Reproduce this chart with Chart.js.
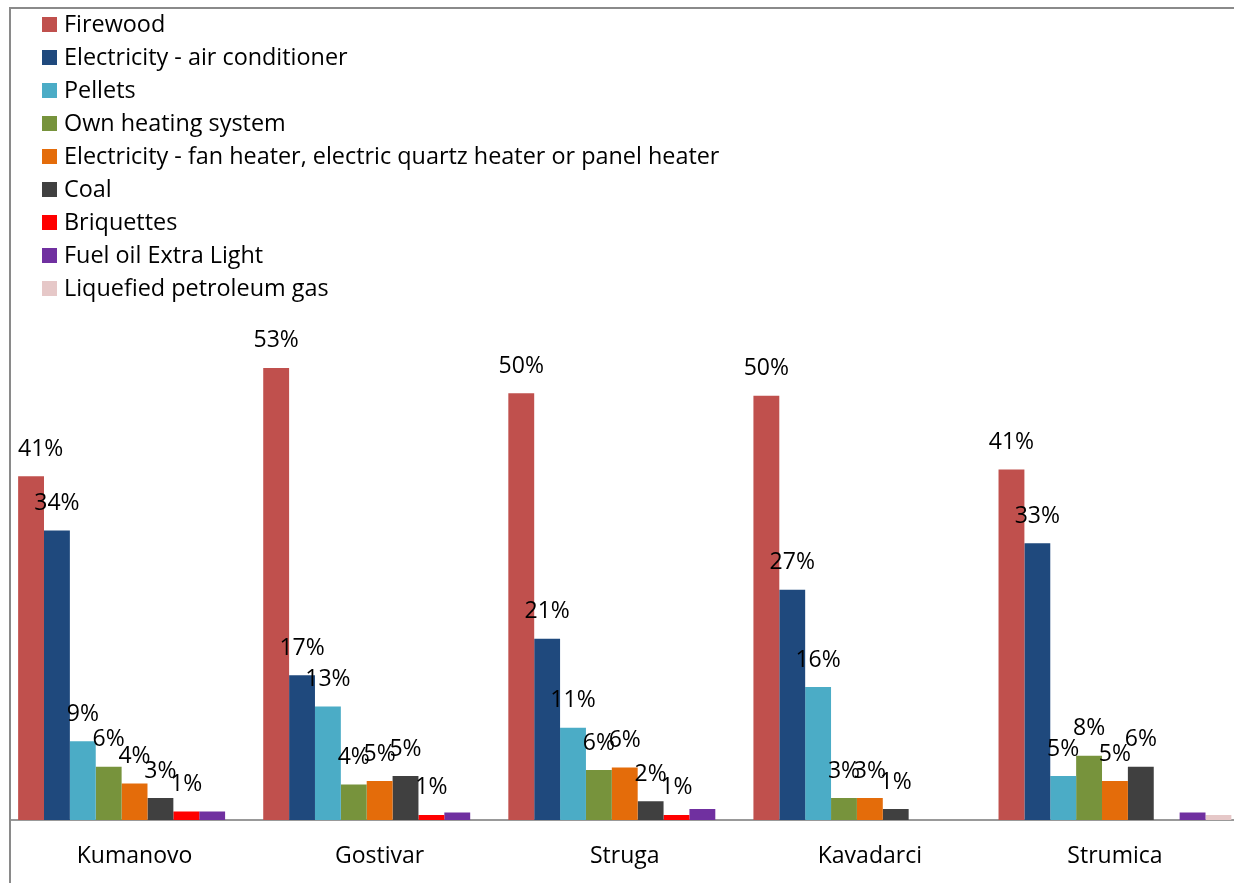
<!DOCTYPE html>
<html>
<head>
<meta charset="utf-8">
<script src="https://cdn.jsdelivr.net/npm/chart.js@4.4.1/dist/chart.umd.min.js"></script>
<style>
  html, body { margin: 0; padding: 0; background: #fff; overflow: hidden; }
  body { width: 1234px; height: 883px; position: relative; font-family: "Open Sans", sans-serif; }
  #frame { position: absolute; left: 9px; top: 7px; width: 1300px; height: 900px;
           border-left: 2px solid #8a8a8a; border-top: 2px solid #8a8a8a; }
  #chart { position: absolute; left: 0; top: 0; }
  #legend { position: absolute; left: 42px; top: 6px; }
  .lg-row { display: flex; align-items: center; height: 33px; font-size: 23.4px; color: #000; }
  .lg-box { width: 15px; height: 15px; margin-right: 7px; margin-top: 3px; }
</style>
</head>
<body>
<div id="frame"></div>
<canvas id="chart" width="1240" height="906"></canvas>
<div id="legend"></div>
<script>
// cities
const cities = ["Kumanovo", "Gostivar", "Struga", "Kavadarci", "Strumica"];

// heating source shares, % of households
const firewood     = [40.6, 53.4, 50.4, 50.1, 41.4];
const elecAircon   = [34.2, 17.1, 21.4, 27.2, 32.7];
const pellets      = [9.3, 13.4, 10.9, 15.7, 5.2];
const ownHeating   = [6.3, 4.2, 5.9, 2.6, 7.6];
const elecHeater   = [4.3, 4.6, 6.2, 2.6, 4.6];
const coal         = [2.6, 5.2, 2.2, 1.3, 6.3];
const briquettes   = [1.0, 0.6, 0.6, 0, 0];
const fuelOil      = [1.0, 0.9, 1.3, 0, 0.9];
const lpg          = [0, 0, 0, 0, 0.6];

// series without value labels in the original
const unlabelled = ["Fuel oil Extra Light", "Liquefied petroleum gas"];

const series = [
  { label: "Firewood", data: firewood, color: "#C0504D" },
  { label: "Electricity - air conditioner", data: elecAircon, color: "#1F497D" },
  { label: "Pellets", data: pellets, color: "#4BACC6" },
  { label: "Own heating system", data: ownHeating, color: "#77933C" },
  { label: "Electricity - fan heater, electric quartz heater or panel heater", data: elecHeater, color: "#E46C0A" },
  { label: "Coal", data: coal, color: "#404040" },
  { label: "Briquettes", data: briquettes, color: "#FF0000" },
  { label: "Fuel oil Extra Light", data: fuelOil, color: "#7030A0" },
  { label: "Liquefied petroleum gas", data: lpg, color: "#E6C8C8" },
];

const FONT = "Open Sans";

// simple value labels above bars
const barLabels = {
  id: "barLabels",
  afterDatasetsDraw(chart) {
    const ctx = chart.ctx;
    ctx.save();
    ctx.font = `23px "${FONT}"`;
    ctx.fillStyle = "#000";
    ctx.textAlign = "center";
    ctx.textBaseline = "middle";
    chart.data.datasets.forEach((ds, di) => {
      if (unlabelled.includes(ds.label)) return;
      const meta = chart.getDatasetMeta(di);
      meta.data.forEach((bar, i) => {
        const v = ds.data[i];
        if (!v) return;
        const txt = Math.round(v) + "%";
        const w = ctx.measureText(txt).width;
        const x = Math.max(bar.x, chart.chartArea.left + 6 + w / 2);
        ctx.fillText(txt, x, bar.y - 27);
      });
    });
    ctx.restore();
  },
};

const chart = new Chart(document.getElementById("chart"), {
  type: "bar",
  data: {
    labels: cities,
    datasets: series.map((s) => ({
      label: s.label,
      data: s.data,
      backgroundColor: s.color,
      borderWidth: 0,
      barPercentage: 1,
      categoryPercentage: 0.95,
    })),
  },
  options: {
    responsive: false,
    animation: false,
    devicePixelRatio: 1,
    layout: { padding: { top: 312, left: 12, right: 2.5, bottom: 12.4 } },
    plugins: {
      legend: { display: false },
      tooltip: { enabled: false },
    },
    scales: {
      x: {
        grid: { display: false, drawTicks: false },
        border: { display: true, color: "#999", width: 2 },
        ticks: { color: "#000", padding: 23, font: { family: FONT, size: 23 } },
      },
      y: { display: false, min: 0, max: 60 },
    },
  },
  plugins: [barLabels],
});

// legend, one entry per line
document.getElementById("legend").innerHTML = chart.data.datasets
  .map((ds) => `<div class="lg-row"><span class="lg-box" style="background:${ds.backgroundColor}"></span>${ds.label}</div>`)
  .join("");
</script>
</body>
</html>
